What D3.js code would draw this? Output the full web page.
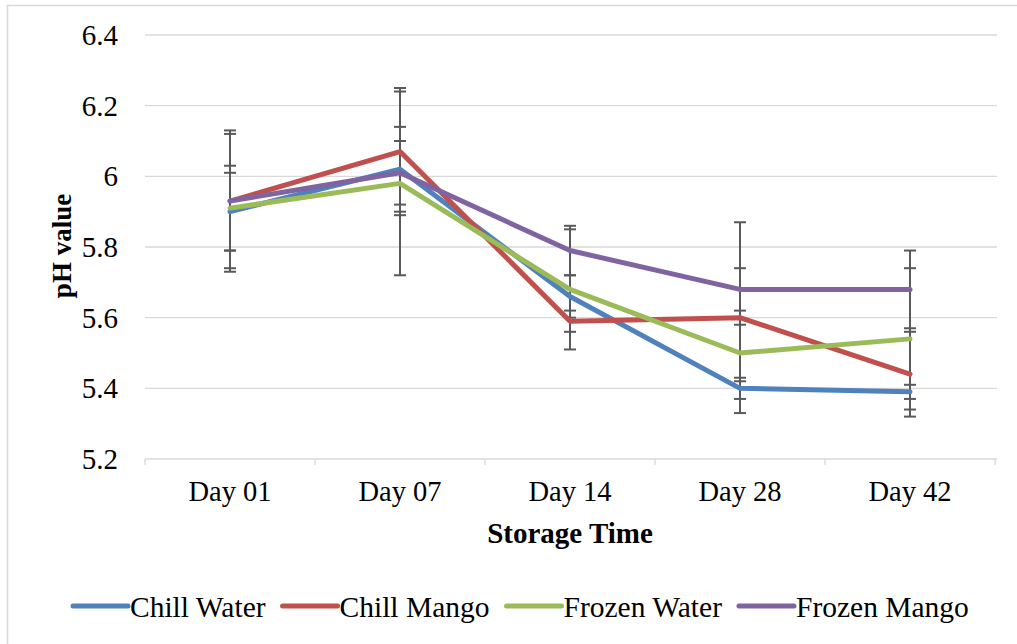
<!DOCTYPE html>
<html>
<head>
<meta charset="utf-8">
<script src="https://cdn.jsdelivr.net/npm/d3@7"></script>
<style>
  body { margin: 0; background: #fff; }
</style>
</head>
<body>
<div id="chart"></div>
<script>
// data
var days = ["Day 01", "Day 07", "Day 14", "Day 28", "Day 42"];
var seriesNames = ["Chill Water", "Chill Mango", "Frozen Water", "Frozen Mango"];
var chillWater = [5.90, 6.02, 5.66, 5.40, 5.39];
var chillMango = [5.93, 6.07, 5.59, 5.60, 5.44];
var frozenWater = [5.91, 5.98, 5.68, 5.50, 5.54];
var frozenMango = [5.93, 6.01, 5.79, 5.68, 5.68];
// standard deviations (error bars)
var chillWaterErr = [0.11, 0.12, 0.06, 0.03, 0.02];
var chillMangoErr = [0.20, 0.18, 0.03, 0.27, 0.12];
var frozenWaterErr = [0.12, 0.26, 0.17, 0.08, 0.20];
var frozenMangoErr = [0.19, 0.09, 0.07, 0.06, 0.11];
var yTicks = [5.2, 5.4, 5.6, 5.8, 6, 6.2, 6.4];

var colors = ["#4f81bd", "#c0504d", "#9bbb59", "#8064a2"];
var series = [
  { name: seriesNames[0], values: chillWater, err: chillWaterErr },
  { name: seriesNames[1], values: chillMango, err: chillMangoErr },
  { name: seriesNames[2], values: frozenWater, err: frozenWaterErr },
  { name: seriesNames[3], values: frozenMango, err: frozenMangoErr }
];

var width = 1017, height = 644;
var serif = "'Liberation Serif', 'Times New Roman', serif";

var svg = d3.select('#chart').append('svg')
  .attr('width', width)
  .attr('height', height)
  .style('font-family', serif);

// chart border
svg.append('rect')
  .attr('x', 7.5).attr('y', 5.5)
  .attr('width', 1030).attr('height', 660)
  .attr('fill', '#fff')
  .attr('stroke', '#d9d9d9')
  .attr('stroke-width', 1.5);

var x = d3.scalePoint().domain(days).range([145, 995]).padding(0.5);
var y = d3.scaleLinear().domain([5.2, 6.4]).range([459, 35]);

// gridlines
svg.append('g')
  .selectAll('line')
  .data(yTicks.filter(d => d > 5.2))
  .join('line')
  .attr('x1', 145).attr('x2', 997)
  .attr('y1', d => y(d)).attr('y2', d => y(d))
  .attr('stroke', '#d9d9d9')
  .attr('stroke-width', 1.3);

// y tick labels
svg.append('g')
  .selectAll('text')
  .data(yTicks)
  .join('text')
  .attr('x', 118)
  .attr('y', d => y(d) + 10)
  .attr('text-anchor', 'end')
  .attr('font-size', '29px')
  .text(d => d3.format('~g')(d));

// x axis line and boundary ticks
var step = x.step();
svg.append('line')
  .attr('x1', 145).attr('x2', 997)
  .attr('y1', y(5.2)).attr('y2', y(5.2))
  .attr('stroke', '#d9d9d9').attr('stroke-width', 1.3);
svg.append('g')
  .selectAll('line')
  .data(d3.range(days.length + 1))
  .join('line')
  .attr('x1', i => 145 + i * step).attr('x2', i => 145 + i * step)
  .attr('y1', y(5.2)).attr('y2', y(5.2) + 6)
  .attr('stroke', '#d9d9d9').attr('stroke-width', 1.3);

// category labels
svg.append('g')
  .selectAll('text')
  .data(days)
  .join('text')
  .attr('x', d => x(d))
  .attr('y', 501)
  .attr('text-anchor', 'middle')
  .attr('font-size', '28.5px')
  .text(d => d);

// axis titles
svg.append('text')
  .attr('x', 570).attr('y', 543)
  .attr('text-anchor', 'middle')
  .attr('font-size', '29px')
  .attr('font-weight', 'bold')
  .text('Storage Time');

svg.append('text')
  .attr('transform', 'translate(71,246) rotate(-90)')
  .attr('text-anchor', 'middle')
  .attr('font-size', '27px')
  .attr('font-weight', 'bold')
  .text('pH value');

// error bars
var errG = svg.append('g');
series.forEach(function(s) {
  days.forEach(function(d, i) {
    var hi = y(s.values[i] + s.err[i]), lo = y(s.values[i] - s.err[i]), cx = x(d);
    errG.append('line')
      .attr('x1', cx).attr('x2', cx).attr('y1', hi).attr('y2', lo)
      .attr('stroke', '#595959').attr('stroke-width', 2);
    [hi, lo].forEach(function(cy) {
      errG.append('line')
        .attr('x1', cx - 6).attr('x2', cx + 6).attr('y1', cy).attr('y2', cy)
        .attr('stroke', '#595959').attr('stroke-width', 2);
    });
  });
});

// series lines
var line = d3.line()
  .x((v, i) => x(days[i]))
  .y(v => y(v));

svg.append('g')
  .selectAll('path')
  .data(series)
  .join('path')
  .attr('d', d => line(d.values))
  .attr('fill', 'none')
  .attr('stroke', (d, i) => colors[i])
  .attr('stroke-width', 5)
  .attr('stroke-linejoin', 'round')
  .attr('stroke-linecap', 'round');

// legend
var legend = svg.append('g');
var lx = 73;
series.forEach(function(s, i) {
  legend.append('line')
    .attr('x1', lx).attr('x2', lx + 55)
    .attr('y1', 606).attr('y2', 606)
    .attr('stroke', colors[i])
    .attr('stroke-width', 5)
    .attr('stroke-linecap', 'round');
  var t = legend.append('text')
    .attr('x', lx + 57).attr('y', 617)
    .attr('font-size', '29.5px')
    .text(s.name);
  lx += 57 + t.node().getComputedTextLength() + 17;
});
</script>
</body>
</html>
